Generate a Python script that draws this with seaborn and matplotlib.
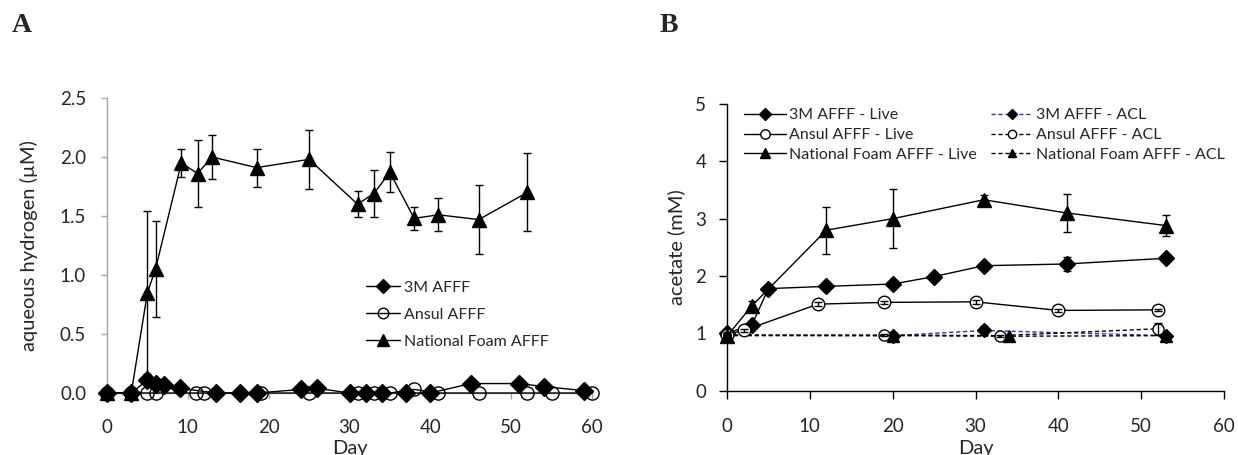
import numpy as np
import pandas as pd
import matplotlib
matplotlib.use("Agg")
import matplotlib.pyplot as plt
import seaborn as sns

# ---------------- Panel A data: aqueous hydrogen (uM) ----------------
a_3m_day = [0, 3, 5, 6, 7, 9, 13.5, 16.5, 18.5, 24, 26, 30, 32, 34, 37, 40, 45, 51, 54, 59]
a_3m_h2 = [0, 0, 0.11, 0.08, 0.065, 0.04, 0, 0, 0, 0.03, 0.04, 0, 0, 0, 0, 0, 0.08, 0.08, 0.055, 0.02]
a_ansul_day = [0, 3, 5, 6, 11, 12, 19, 25, 31, 33, 35, 38, 41, 46, 52, 55, 60]
a_ansul_h2 = [0, 0, 0, 0, 0, 0, 0, 0, 0, 0, 0, 0.03, 0, 0, 0, 0, 0]
a_nf_day = [0, 3, 5, 6, 9.2, 11.2, 13, 18.5, 25, 31, 33, 35, 38, 41, 46, 52]
a_nf_h2 = [0, 0, 0.85, 1.05, 1.95, 1.86, 2.0, 1.91, 1.98, 1.60, 1.69, 1.87, 1.48, 1.51, 1.47, 1.70]
a_nf_err = [0, 0, 0.69, 0.41, 0.12, 0.28, 0.19, 0.16, 0.25, 0.11, 0.20, 0.17, 0.10, 0.14, 0.29, 0.33]
a_labels = ["3M AFFF", "Ansul AFFF", "National Foam AFFF"]

# ---------------- Panel B data: acetate (mM) ----------------
b_3m_live_day = [0, 3, 5, 12, 20, 25, 31, 41, 53]
b_3m_live = [1.0, 1.15, 1.78, 1.82, 1.86, 1.99, 2.18, 2.21, 2.31]
b_3m_live_err = [0.02, 0.02, 0.03, 0.03, 0.04, 0.06, 0.04, 0.12, 0.04]
b_ansul_live_day = [0, 2, 11, 19, 30, 40, 52]
b_ansul_live = [0.98, 1.05, 1.51, 1.54, 1.55, 1.40, 1.41]
b_ansul_live_err = [0.02, 0.03, 0.04, 0.03, 0.04, 0.02, 0.02]
b_nf_live_day = [0, 3, 12, 20, 31, 41, 53]
b_nf_live = [0.95, 1.48, 2.80, 3.00, 3.33, 3.10, 2.88]
b_nf_live_err = [0.03, 0.08, 0.41, 0.51, 0.08, 0.33, 0.19]
b_3m_acl_day = [0, 20, 31, 53]
b_3m_acl = [0.97, 0.96, 1.05, 0.96]
b_3m_acl_err = [0.02, 0.02, 0.08, 0.03]
b_ansul_acl_day = [0, 19, 33, 52]
b_ansul_acl = [0.97, 0.97, 0.96, 1.08]
b_ansul_acl_err = [0.02, 0.02, 0.02, 0.10]
b_nf_acl_day = [0, 20, 34, 53]
b_nf_acl = [0.96, 0.96, 0.95, 0.96]
b_nf_acl_err = [0.02, 0.02, 0.02, 0.03]
b_labels_live = ["3M AFFF - Live", "Ansul AFFF - Live", "National Foam AFFF - Live"]
b_labels_acl = ["3M AFFF - ACL", "Ansul AFFF - ACL", "National Foam AFFF - ACL"]

sns.set_theme(style="white")
plt.rcParams["font.family"] = ["Lato", "DejaVu Sans"]
plt.rcParams["font.size"] = 11

TICK_FS = 13.5
LAB_FS = 14.5
LEG_FS = 11.5

fig = plt.figure(figsize=(12.38, 4.55), dpi=100)
axA = fig.add_axes([107 / 1238, 1 - 393 / 455, 485 / 1238, 295 / 455])
axB = fig.add_axes([727 / 1238, 1 - 390.7 / 455, 497 / 1238, 286.7 / 455])

GREY = "#a6a6a6"


def draw(ax, x, y, label, marker, ms, mfc, color="black", dashes=None, z=2):
    df = pd.DataFrame({"x": x, "y": y})
    kws = dict(marker=marker, markersize=ms, markerfacecolor=mfc,
               markeredgecolor="black", markeredgewidth=1.0,
               color=color, linewidth=1.0, zorder=z, clip_on=False)
    if dashes is not None:
        kws["dashes"] = dashes
    sns.lineplot(data=df, x="x", y="y", ax=ax, sort=False, estimator=None,
                 label=label, **kws)


# ---------- Panel A ----------
draw(axA, a_3m_day, a_3m_h2, a_labels[0], "D", 9, "black", z=3)
draw(axA, a_ansul_day, a_ansul_h2, a_labels[1], "o", 9.5, "none", z=4)
draw(axA, a_nf_day, a_nf_h2, a_labels[2], "^", 10.5, "black", z=5)
axA.errorbar(a_nf_day, a_nf_h2, yerr=a_nf_err, fmt="none", ecolor="black",
             elinewidth=1.0, capsize=3, capthick=1.0, zorder=6, clip_on=False)

axA.set_xlim(0, 60)
axA.set_ylim(0, 2.5)
axA.set_xticks(np.arange(0, 61, 10))
axA.set_yticks(np.arange(0, 2.51, 0.5))
axA.set_yticklabels([f"{v:.1f}" for v in np.arange(0, 2.51, 0.5)])
for s in ["top", "right"]:
    axA.spines[s].set_visible(False)
for s in ["left", "bottom"]:
    axA.spines[s].set_color(GREY)
    axA.spines[s].set_linewidth(1.0)
    axA.spines[s].set_zorder(1)
axA.tick_params(axis="y", direction="out", length=4, width=1, color=GREY,
                labelsize=TICK_FS, pad=11, left=True)
axA.tick_params(axis="x", direction="out", length=4, width=1, color=GREY,
                labelsize=TICK_FS, pad=15, bottom=True)
axA.set_xlabel("Day", fontsize=LAB_FS)
axA.set_ylabel("aqueous hydrogen (\u00b5M)", fontsize=LAB_FS)
axA.yaxis.set_label_coords(-0.142, 0.5)
axA.xaxis.set_label_coords(0.5, -0.158)
axA.patch.set_alpha(0)
axA.legend(loc="upper left", bbox_to_anchor=(0.535, 0.38), frameon=False,
           handlelength=2.1, handletextpad=0.25, labelspacing=0.8,
           borderpad=0, borderaxespad=0, markerscale=0.8, fontsize=LEG_FS)

# ---------- Panel B ----------
draw(axB, b_3m_acl_day, b_3m_acl, b_labels_acl[0], "D", 7, "black",
     color="#3030b0", dashes=(3, 2), z=2)
draw(axB, b_ansul_acl_day, b_ansul_acl, b_labels_acl[1], "o", 8, "white",
     dashes=(3, 2), z=2)
draw(axB, b_nf_acl_day, b_nf_acl, b_labels_acl[2], "^", 8.5, "black",
     dashes=(3, 2), z=2)
draw(axB, b_3m_live_day, b_3m_live, b_labels_live[0], "D", 8.5, "black", z=3)
draw(axB, b_ansul_live_day, b_ansul_live, b_labels_live[1], "o", 9, "white", z=3)
draw(axB, b_nf_live_day, b_nf_live, b_labels_live[2], "^", 10, "black", z=3)
for xs, ys, es in [(b_3m_live_day, b_3m_live, b_3m_live_err),
                   (b_ansul_live_day, b_ansul_live, b_ansul_live_err),
                   (b_nf_live_day, b_nf_live, b_nf_live_err),
                   (b_3m_acl_day, b_3m_acl, b_3m_acl_err),
                   (b_ansul_acl_day, b_ansul_acl, b_ansul_acl_err),
                   (b_nf_acl_day, b_nf_acl, b_nf_acl_err)]:
    axB.errorbar(xs, ys, yerr=es, fmt="none", ecolor="black", elinewidth=1.0,
                 capsize=3, capthick=1.0, zorder=5, clip_on=False)

axB.set_xlim(0, 60)
axB.set_ylim(0, 5)
axB.set_xticks(np.arange(0, 61, 10))
axB.set_yticks(np.arange(0, 6, 1))
for s in ["top", "right"]:
    axB.spines[s].set_visible(False)
for s in ["left", "bottom"]:
    axB.spines[s].set_color("black")
    axB.spines[s].set_linewidth(1.0)
axB.tick_params(axis="y", direction="out", length=6, width=1, color="black",
                labelsize=TICK_FS, pad=9, left=True)
axB.tick_params(axis="x", direction="out", length=6, width=1, color="black",
                labelsize=TICK_FS, pad=14, bottom=True)
axB.set_xlabel("Day", fontsize=LAB_FS)
axB.set_ylabel("acetate (mM)", fontsize=LAB_FS)
axB.yaxis.set_label_coords(-0.085, 0.5)
axB.xaxis.set_label_coords(0.5, -0.172)
axB.patch.set_alpha(0)
h, l = axB.get_legend_handles_labels()
order = [3, 4, 5, 0, 1, 2]
axB.legend([h[i] for i in order], [l[i] for i in order], ncol=2,
           loc="upper left", bbox_to_anchor=(0.035, 0.985), frameon=False,
           handlelength=2.6, handletextpad=0.2, labelspacing=0.35,
           columnspacing=0.9, borderpad=0, borderaxespad=0,
           markerscale=0.75, fontsize=LEG_FS)

fig.text(12 / 1238, 1 - 32 / 455, "A", fontsize=20, fontweight="bold",
         family="Liberation Serif", va="baseline", ha="left")
fig.text(660 / 1238, 1 - 32 / 455, "B", fontsize=20, fontweight="bold",
         family="Liberation Serif", va="baseline", ha="left")

fig.savefig("out.png", dpi=100, facecolor="white")
